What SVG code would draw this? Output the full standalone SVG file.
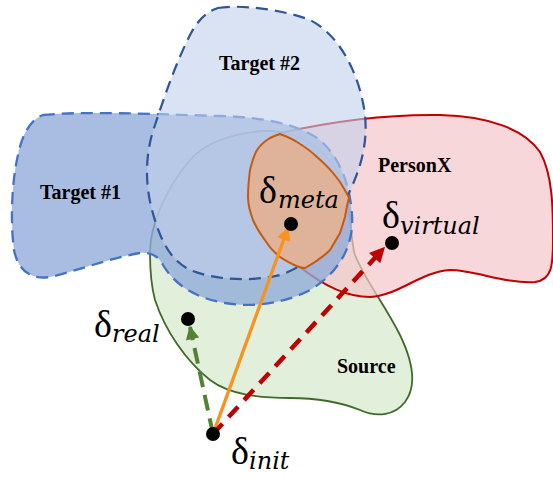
<svg xmlns="http://www.w3.org/2000/svg" width="553" height="477" viewBox="0 0 553 477">
<defs>
<style>
.lbl{font-family:"Liberation Serif","Times New Roman",serif;font-weight:bold;font-size:20px;fill:#000}
.dl{font-family:"Liberation Serif","Times New Roman",serif;font-size:38px;fill:#000}
.sub{font-family:"DejaVu Serif",serif;font-style:italic;font-size:24px;fill:#000}
.dot{fill:#000}
</style>
<marker id="ahO" viewBox="0 0 10 10" refX="9" refY="5" markerWidth="4.5" markerHeight="4" orient="auto" markerUnits="strokeWidth"><path d="M0,0 L10,5 L0,10 Z" fill="#f7931e"/></marker>
<marker id="ahR" viewBox="0 0 10 10" refX="9" refY="5" markerWidth="3.8" markerHeight="3.4" orient="auto" markerUnits="strokeWidth"><path d="M0,0 L10,5 L0,10 Z" fill="#c00000"/></marker>
<marker id="ahG" viewBox="0 0 10 10" refX="9" refY="5" markerWidth="3.6" markerHeight="3.4" orient="auto" markerUnits="strokeWidth"><path d="M0,0 L10,5 L0,10 Z" fill="#548235"/></marker>
</defs>
<rect width="553" height="477" fill="#fff"/>

<g id="source">
<path d="M150,253 C150,225 165,190 190,160 C205,142 235,133 262,131 C300,130 330,150 343,185 C352,210 350,240 355,255 C365,280 385,305 400,335 C412,360 418,385 405,402 C395,415 378,418 360,410 C340,402 320,398 290,398 C260,398 230,395 210,380 C185,360 165,330 155,300 C151,285 150,270 150,253 Z" fill="#e2efda" stroke="#3f6b2a" stroke-width="1.8"/>
</g>

<g id="personx">
<path d="M280,133 C320,124 380,114 440,115 C490,116 525,130 540,152 C553,175 553,210 553,240 C553,265 552,280 535,282 C505,284 475,270 450,270 C420,272 400,295 370,297 C345,297 320,283 300,267 C275,245 258,200 262,165 C265,148 270,138 280,133 Z" fill="#f5c6ca" fill-opacity="0.7" stroke="#c00000" stroke-width="2"/>
</g>

<g id="target1">
<path d="M43,115 C80,111 150,114 220,116 C265,117 300,125 320,140 C340,158 350,185 352,215 C354,245 340,272 310,290 C285,303 255,308 225,303 C195,298 175,285 163,265 C158,255 150,252 140,253 C110,258 80,270 50,277 C30,280 18,270 14,250 C10,220 12,180 18,155 C22,135 30,120 43,115 Z" fill="#8faad8" fill-opacity="0.78" stroke="#4472c4" stroke-width="2.3" stroke-dasharray="12 7"/>
</g>

<g id="target2">
<path d="M218,8 C240,4 285,10 310,20 C340,35 360,75 365,115 C368,145 360,170 348,195 L320,245 C310,260 300,268 280,275 C250,282 215,280 190,270 C170,260 160,240 152,210 C144,180 146,150 155,125 C165,95 175,65 190,35 C198,20 206,12 218,8 Z" fill="#c1d0eb" fill-opacity="0.6" stroke="#2f5597" stroke-width="2.2" stroke-dasharray="12 7"/>
</g>

<g id="meta">
<path d="M280,134 C288,137 293,139 297,142 C305,147 311,151 317,157 C325,164 329,168 333,173 C338,179 341,183 343,187 C346,192 348,195 349,198 C347,205 346,211 345,217 C343,223 342,228 340,233 C336,240 333,245 330,250 C322,258 314,263 305,268 C298,268 290,263 280,257 C274,252 270,248 267,243 C261,235 256,227 253,220 C250,212 248,205 248,197 C248,187 249,178 250,170 C252,162 254,155 257,150 C261,144 265,141 270,138 C274,136 277,135 280,134 Z" fill="#deb399" stroke="#c55a11" stroke-width="2"/>
</g>

<g id="labels">
<text class="lbl" x="219" y="70">Target #2</text>
<text class="lbl" x="40" y="199">Target #1</text>
<text class="lbl" x="378" y="172">PersonX</text>
<text class="lbl" x="337" y="373">Source</text>
</g>

<g id="connectors">
<line x1="213" y1="434" x2="288" y2="228" stroke="#f7931e" stroke-width="3.4" marker-end="url(#ahO)"/>
<line x1="213" y1="434" x2="384" y2="248" stroke="#c00000" stroke-width="4.5" stroke-dasharray="14 9" marker-end="url(#ahR)"/>
<line x1="213" y1="434" x2="190" y2="327" stroke="#548235" stroke-width="4" stroke-dasharray="16 8" marker-end="url(#ahG)"/>
</g>

<g id="p-meta">
<circle class="dot" cx="291" cy="224" r="7"/>
<text class="dl" x="259" y="203">δ</text><text class="sub" x="278" y="208">meta</text>
</g>
<g id="p-virtual">
<circle class="dot" cx="392" cy="243" r="7"/>
<text class="dl" x="382" y="228">δ</text><text class="sub" x="400" y="234">virtual</text>
</g>
<g id="p-real">
<circle class="dot" cx="188" cy="319" r="7"/>
<text class="dl" x="94" y="337">δ</text><text class="sub" x="112" y="342">real</text>
</g>
<g id="p-init">
<circle class="dot" cx="213" cy="434" r="7"/>
<text class="dl" x="231" y="464">δ</text><text class="sub" x="249" y="469">init</text>
</g>
</svg>
